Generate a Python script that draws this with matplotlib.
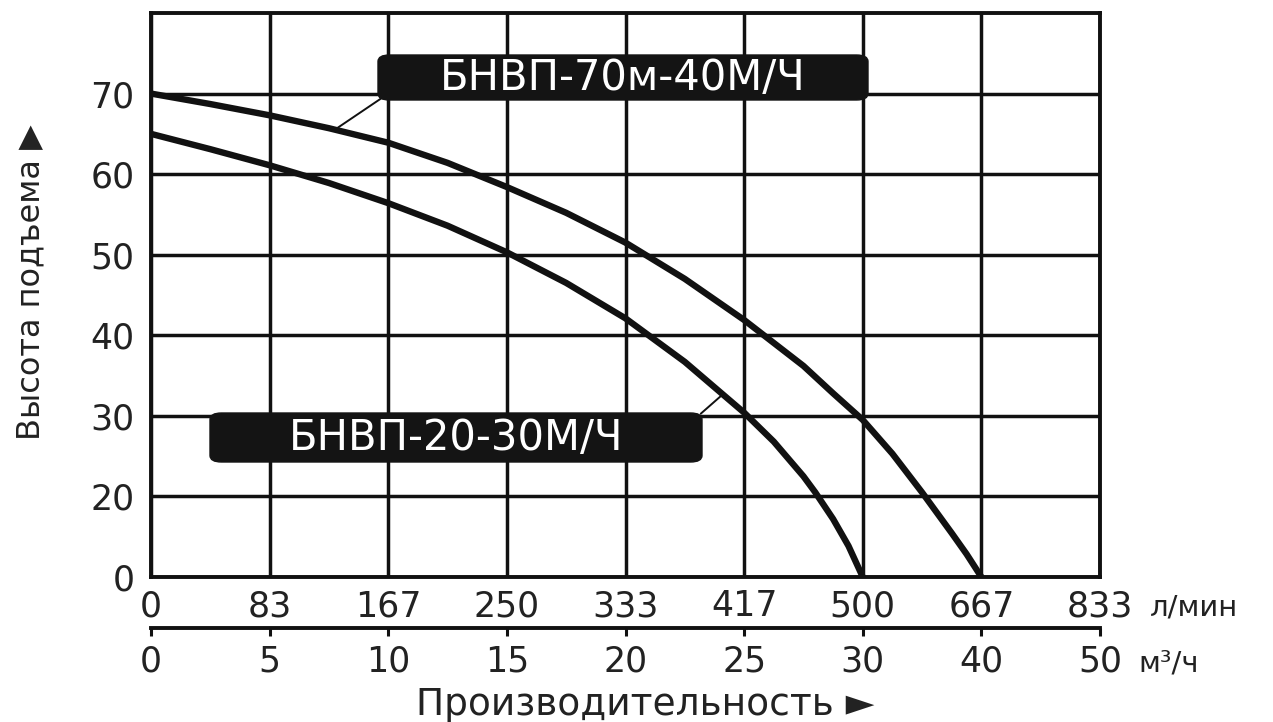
import numpy as np
import matplotlib.pyplot as plt
from matplotlib.patches import FancyBboxPatch

plt.rcParams['font.family'] = ['DejaVu Sans']

# axis ticks (grid is evenly spaced, values are not)
flow_m3h = [0, 5, 10, 15, 20, 25, 30, 40, 50]
flow_lpm = ['0', '83', '167', '250', '333', '417', '500', '667', '833']
head_ticks = [0, 20, 30, 40, 50, 60, 70]
head_grid = [0, 20, 30, 40, 50, 60, 70, 80]

# pump curves (m3/h, m)
q_70 = [0, 2.5, 5, 7.5, 10, 12.5, 15, 17.5, 20, 22.5, 25, 27.5, 28.75, 30,
        32.5, 35, 37.5, 38.75, 40]
h_70 = [70, 68.7, 67.3, 65.7, 63.9, 61.4, 58.4, 55.2, 51.5, 47.0, 41.9, 36.2,
        32.8, 29.5, 25.3, 20.5, 10.9, 5.7, 0]
q_20 = [0, 2.5, 5, 7.5, 10, 12.5, 15, 17.5, 20, 22.5, 25, 26.25, 27.5, 28,
        28.75, 29.4, 30]
h_20 = [65, 63.1, 61.1, 58.9, 56.4, 53.6, 50.3, 46.5, 42.1, 36.7, 30.4, 26.8,
        22.5, 20.5, 14.4, 7.7, 0]

label_70 = 'БНВП-70м-40М/Ч'
label_20 = 'БНВП-20-30М/Ч'


def piecewise(ticks):
    idx = np.arange(len(ticks))
    fwd = lambda v: np.interp(v, ticks, idx)
    inv = lambda v: np.interp(v, idx, ticks)
    return fwd, inv


fig = plt.figure(figsize=(12.73, 7.22), dpi=100)
L, R, B, T = 151 / 1273, 1100 / 1273, 1 - 577 / 722, 1 - 13 / 722
ax = fig.add_axes([L, B, R - L, T - B])

ax.set_xscale('function', functions=piecewise(flow_m3h))
ax.set_yscale('function', functions=piecewise(head_grid))
ax.set_xlim(0, 50)
ax.set_ylim(0, 80)

for q, h in [(q_70, h_70), (q_20, h_20)]:
    ax.plot(q, h, color='#111111', lw=4.6, solid_capstyle='butt',
            solid_joinstyle='round', zorder=3)

ax.set_xticks(flow_m3h, flow_lpm)
ax.set_yticks(head_ticks)
ax.grid(True, color='#111111', lw=2.5)
ax.set_axisbelow(True)
for s in ax.spines.values():
    s.set_linewidth(2.8)
    s.set_color('#111111')
ax.tick_params(axis='both', length=0, labelsize=25, colors='#222222')
ax.tick_params(axis='x', pad=9)
ax.tick_params(axis='y', pad=12)

# second flow scale in m3/h
ax2 = fig.add_axes([L, 1 - 628 / 722, R - L, 0.0001])
ax2.set_xscale('function', functions=piecewise(flow_m3h))
ax2.set_xlim(0, 50)
ax2.set_xticks(flow_m3h)
ax2.set_yticks([])
ax2.patch.set_visible(False)
for k in ['top', 'left', 'right']:
    ax2.spines[k].set_visible(False)
ax2.spines['bottom'].set_linewidth(2.8)
ax2.spines['bottom'].set_color('#111111')
ax2.tick_params(axis='x', direction='out', length=6, width=2.2,
                labelsize=25, pad=6, colors='#111111', labelcolor='#222222')

# unit and axis titles
fig.text(1150 / 1273, 1 - 607 / 722, 'л/мин', fontsize=21, ha='left', va='center', color='#222222')
fig.text(1138 / 1273, 1 - 664 / 722, 'м³/ч', fontsize=21, ha='left', va='center', color='#222222')
fig.text(645 / 1273, 1 - 705 / 722, 'Производительность ►', fontsize=27,
         ha='center', va='center', color='#222222')
fig.text(31 / 1273, 1 - 282 / 722, 'Высота подъема ▶', fontsize=23, rotation=90,
         ha='center', va='center', color='#222222')

# curve labels: black rounded boxes with leader lines
for (x0, y0, x1, y1), text, qp, curve in [
        ((378, 55, 868, 100), label_70, 7.75, (q_70, h_70)),
        ((210, 413, 702, 462), label_20, 24.1, (q_20, h_20))]:
    bx, by = x0 / 1273, 1 - y1 / 722
    bw, bh = (x1 - x0) / 1273, (y1 - y0) / 722
    box = FancyBboxPatch((bx, by), bw, bh, transform=fig.transFigure,
                         boxstyle='round,pad=0,rounding_size=0.009',
                         fc='#141414', ec='#141414', zorder=5)
    fig.patches.append(box)
    fig.text(bx + bw / 2, by + bh / 2, text, fontsize=30, color='white',
             ha='center', va='center', zorder=6)
    hp = np.interp(qp, curve[0], curve[1])
    if text == label_70:
        start = (bx + 0.004, by + 0.004)
    else:
        start = (bx + bw - 0.001, by + bh - 0.001)
    ax.annotate('', xy=(qp, hp), xycoords='data', xytext=start,
                textcoords='figure fraction',
                arrowprops=dict(arrowstyle='-', color='#111111', lw=1.4,
                                shrinkA=0, shrinkB=0), zorder=4)

fig.savefig('out.png', dpi=100, facecolor='white')
